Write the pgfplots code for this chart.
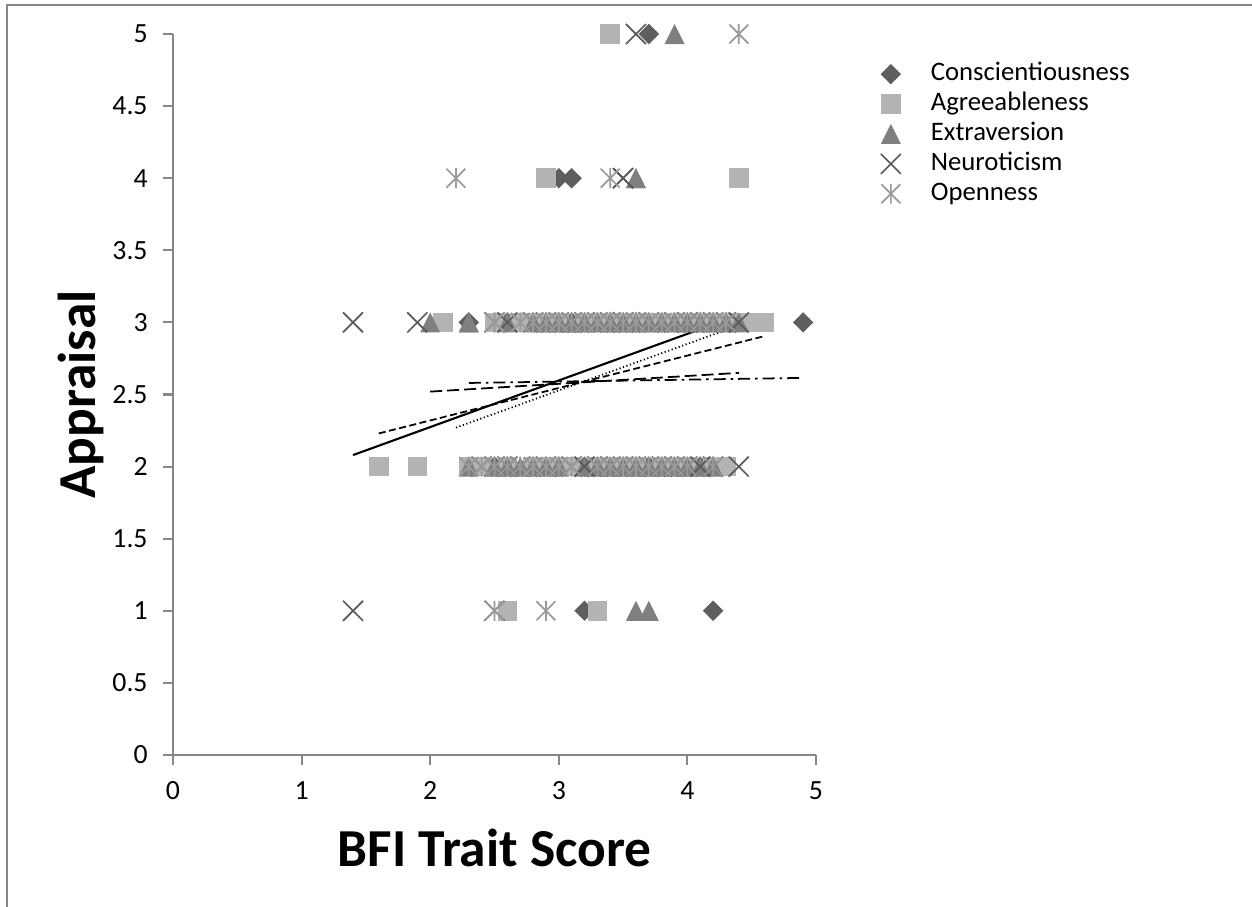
\documentclass[border=0pt]{standalone}
\usepackage{fontspec}
\setmainfont{Carlito}
\usepackage{pgfplots}
\pgfplotsset{compat=1.18}

\definecolor{cdia}{HTML}{5E5E5E}
\definecolor{csq}{HTML}{B3B3B3}
\definecolor{ctri}{HTML}{7F7F7F}
\definecolor{cx}{HTML}{595959}
\definecolor{cast}{HTML}{9A9A9A}
\definecolor{caxis}{HTML}{878787}

% Excel-like markers
\pgfdeclareplotmark{dia}{%
  \pgfpathmoveto{\pgfqpoint{0pt}{\pgfplotmarksize}}%
  \pgfpathlineto{\pgfqpoint{\pgfplotmarksize}{0pt}}%
  \pgfpathlineto{\pgfqpoint{0pt}{-\pgfplotmarksize}}%
  \pgfpathlineto{\pgfqpoint{-\pgfplotmarksize}{0pt}}%
  \pgfpathclose\pgfusepathqfill}
\pgfdeclareplotmark{sq}{%
  \pgfpathrectangle{\pgfqpoint{-\pgfplotmarksize}{-\pgfplotmarksize}}{\pgfqpoint{2\pgfplotmarksize}{2\pgfplotmarksize}}%
  \pgfusepathqfill}
\pgfdeclareplotmark{tri}{%
  \pgfpathmoveto{\pgfqpoint{0pt}{\pgfplotmarksize}}%
  \pgfpathlineto{\pgfqpoint{\pgfplotmarksize}{-\pgfplotmarksize}}%
  \pgfpathlineto{\pgfqpoint{-\pgfplotmarksize}{-\pgfplotmarksize}}%
  \pgfpathclose\pgfusepathqfill}
\pgfdeclareplotmark{xx}{%
  \pgfpathmoveto{\pgfqpoint{-\pgfplotmarksize}{-\pgfplotmarksize}}%
  \pgfpathlineto{\pgfqpoint{\pgfplotmarksize}{\pgfplotmarksize}}%
  \pgfpathmoveto{\pgfqpoint{-\pgfplotmarksize}{\pgfplotmarksize}}%
  \pgfpathlineto{\pgfqpoint{\pgfplotmarksize}{-\pgfplotmarksize}}%
  \pgfusepathqstroke}
\pgfdeclareplotmark{xast}{%
  \pgfpathmoveto{\pgfqpoint{-\pgfplotmarksize}{-\pgfplotmarksize}}%
  \pgfpathlineto{\pgfqpoint{\pgfplotmarksize}{\pgfplotmarksize}}%
  \pgfpathmoveto{\pgfqpoint{-\pgfplotmarksize}{\pgfplotmarksize}}%
  \pgfpathlineto{\pgfqpoint{\pgfplotmarksize}{-\pgfplotmarksize}}%
  \pgfpathmoveto{\pgfqpoint{0pt}{-1.05\pgfplotmarksize}}%
  \pgfpathlineto{\pgfqpoint{0pt}{1.05\pgfplotmarksize}}%
  \pgfusepathqstroke}

\begin{document}
\begin{tikzpicture}
\useasboundingbox (0,0) rectangle (125.2mm,90.7mm);
\draw[caxis, line width=0.6pt] (0.7mm,0) -- (0.7mm,90.2mm) -- (125.2mm,90.2mm);
\begin{axis}[
  at={(17.3mm,15.2mm)}, anchor=south west,
  width=64.3mm, height=72.1mm, scale only axis,
  xmin=0, xmax=5, ymin=0, ymax=5,
  xtick={0,1,2,3,4,5},
  ytick={0,0.5,1,1.5,2,2.5,3,3.5,4,4.5,5},
  axis lines*=left,
  axis line style={caxis, line width=0.6pt},
  tick style={caxis, line width=0.6pt},
  tick align=outside,
  major tick length=1mm,
  /pgf/number format/assume math mode=true,
  ticklabel style={font=\fontsize{7.9}{9}\selectfont},
  xticklabel style={yshift=-0.4mm},
  yticklabel style={xshift=-0.3mm},
  xlabel={\textbf{BFI Trait Score}},
  ylabel={\textbf{Appraisal}},
  label style={font=\fontsize{15.2}{18}\selectfont},
  xlabel style={at={(axis description cs:0.5,-0.129)}, anchor=center},
  ylabel style={at={(axis description cs:-0.143,0.5)}, anchor=center},
  legend style={at={(axis description cs:1.0995,0.966)}, anchor=north west,
    draw=none, fill=none, inner xsep=0pt, inner ysep=0pt,
    font=\fontsize{7.6}{9}\selectfont,
    nodes={inner sep=0pt, text height=2.12mm, text depth=0.87mm}},
  legend cell align=left,
  legend image code/.code={%
    \path[draw=none, fill=none] (-0.1cm,0) -- (0.4cm,0);
    \path[#1, draw=none] plot coordinates {(0cm,0cm)};},
]
% Conscientiousness
\addplot[only marks, mark=dia, mark size=1.02mm, color=cdia] coordinates {
(3.7,5)(3.0,4)(3.1,4)(3.2,1)(4.2,1)
(2.3,3)(2.6,3)(2.8,3)(2.9,3)(3.0,3)(3.1,3)(3.2,3)(3.3,3)(3.4,3)(3.5,3)(3.6,3)
(3.7,3)(3.8,3)(3.9,3)(4.0,3)(4.1,3)(4.2,3)(4.3,3)(3.4,3)(3.6,3)(4.0,3)(4.9,3)
(2.5,2)(2.6,2)(2.6,2)(2.8,2)(2.9,2)(3.0,2)(3.1,2)(3.2,2)(3.3,2)(3.5,2)(3.6,2)
(3.7,2)(3.8,2)(3.9,2)(4.0,2)(4.1,2)(4.2,2)(4.2,2)
};
\addlegendentry{Conscientiousness}
% Agreeableness
\addplot[only marks, mark=sq, mark size=0.98mm, color=csq] coordinates {
(3.4,5)(2.9,4)(4.4,4)(2.6,1)(3.3,1)
(2.1,3)(2.5,3)(2.5,3)(2.7,3)(2.8,3)(2.9,3)(3.0,3)(3.2,3)(3.3,3)(3.4,3)(3.5,3)
(3.6,3)(3.7,3)(3.8,3)(3.9,3)(4.0,3)(4.1,3)(4.2,3)(4.3,3)(4.4,3)(4.5,3)(4.6,3)
(1.6,2)(1.9,2)(2.3,2)(2.4,2)(2.6,2)(2.8,2)(2.9,2)(3.0,2)(3.1,2)(3.3,2)(3.4,2)
(3.5,2)(3.6,2)(3.8,2)(3.9,2)(4.0,2)(4.2,2)(4.3,2)
};
\addlegendentry{Agreeableness}
% Extraversion
\addplot[only marks, mark=tri, mark size=1.0mm, color=ctri] coordinates {
(3.9,5)(3.6,4)(3.6,4)(3.6,1)(3.7,1)
(2.0,3)(2.3,3)(2.3,3)(2.6,3)(2.8,3)(2.9,3)(3.0,3)(3.1,3)(3.1,3)(3.2,3)(3.3,3)
(3.4,3)(3.5,3)(3.6,3)(3.7,3)(3.8,3)(3.9,3)(4.0,3)(4.1,3)(4.2,3)(4.3,3)(4.4,3)
(2.3,2)(2.5,2)(2.6,2)(2.7,2)(2.8,2)(2.9,2)(3.0,2)(3.2,2)(3.3,2)(3.4,2)(3.5,2)
(3.6,2)(3.7,2)(3.8,2)(3.9,2)(4.0,2)(4.1,2)(4.2,2)
};
\addlegendentry{Extraversion}
% Neuroticism
\addplot[only marks, mark=xx, mark size=1.0mm, color=cx, mark options={line width=0.48pt}] coordinates {
(3.6,5)(3.5,4)(3.5,4)(1.4,1)(2.5,1)
(1.4,3)(1.9,3)(2.5,3)(2.6,3)(2.8,3)(2.9,3)(3.0,3)(3.1,3)(3.2,3)(3.3,3)(3.4,3)
(3.5,3)(3.5,3)(3.6,3)(3.7,3)(3.9,3)(4.0,3)(4.0,3)(4.1,3)(4.2,3)(4.3,3)(4.4,3)
(2.4,2)(2.5,2)(2.6,2)(2.7,2)(2.9,2)(3.1,2)(3.2,2)(3.3,2)(3.4,2)(3.5,2)(3.6,2)
(3.7,2)(3.8,2)(3.9,2)(4.0,2)(4.1,2)(4.2,2)(4.4,2)
};
\addlegendentry{Neuroticism}
% Openness
\addplot[only marks, mark=xast, mark size=0.95mm, color=cast, mark options={line width=0.48pt}] coordinates {
(4.4,5)(2.2,4)(3.4,4)(2.5,1)(2.9,1)
(2.5,3)(2.5,3)(2.7,3)(2.8,3)(2.9,3)(3.0,3)(3.0,3)(3.1,3)(3.2,3)(3.3,3)(3.3,3)
(3.4,3)(3.5,3)(3.6,3)(3.6,3)(3.7,3)(3.8,3)(3.9,3)(4.0,3)(4.1,3)(4.2,3)(4.3,3)
(2.3,2)(2.4,2)(2.5,2)(2.6,2)(2.7,2)(2.8,2)(2.9,2)(3.0,2)(3.1,2)(3.3,2)(3.4,2)
(3.5,2)(3.6,2)(3.7,2)(3.8,2)(3.9,2)(4.0,2)(4.2,2)
};
\addlegendentry{Openness}
% linear trend lines
\addplot[black, line width=0.5pt, dash pattern=on 1.2mm off 0.5mm on 0.25mm off 0.5mm, forget plot] coordinates {(2.3,2.58)(4.9,2.615)};
\addplot[black, line width=0.5pt, dash pattern=on 0.7mm off 0.35mm, forget plot] coordinates {(1.6,2.23)(4.6,2.905)};
\addplot[black, line width=0.5pt, dash pattern=on 1.2mm off 0.5mm, forget plot] coordinates {(2.0,2.52)(4.4,2.65)};
\addplot[black, line width=0.6pt, forget plot] coordinates {(1.4,2.08)(4.4,3.05)};
\addplot[black, line width=0.5pt, dash pattern=on 0.12mm off 0.25mm, forget plot] coordinates {(2.2,2.27)(4.4,2.98)};
\end{axis}
\end{tikzpicture}
\end{document}
